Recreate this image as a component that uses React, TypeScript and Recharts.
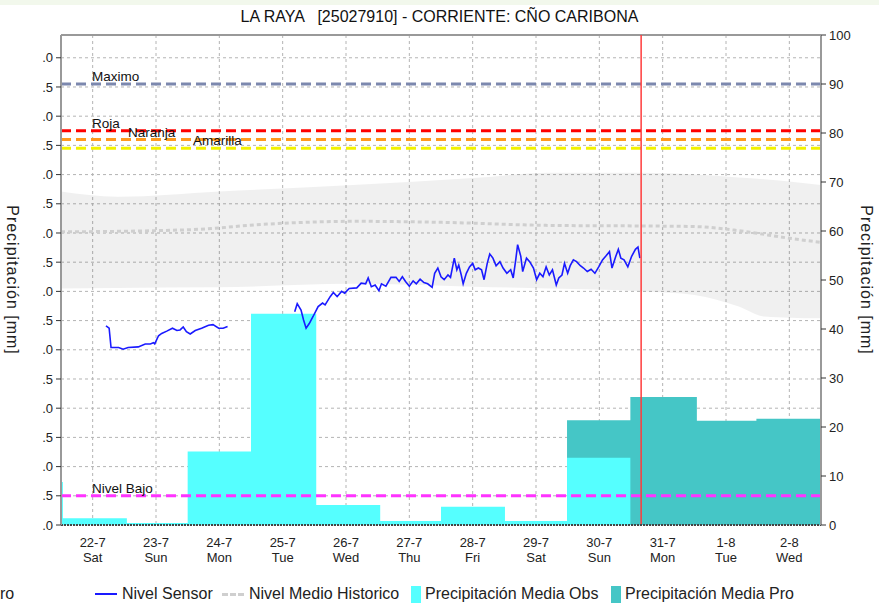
import {
  Area,
  CartesianGrid,
  ComposedChart,
  Line,
  ReferenceLine,
  XAxis,
  YAxis,
} from 'recharts';

const FONT = '"Liberation Sans", Arial, sans-serif';

const DAY_LABELS = ['22-7', '23-7', '24-7', '25-7', '26-7', '27-7', '28-7', '29-7', '30-7', '31-7', '1-8', '2-8'];
const WEEKDAYS = ['Sat', 'Sun', 'Mon', 'Tue', 'Wed', 'Thu', 'Fri', 'Sat', 'Sun', 'Mon', 'Tue', 'Wed'];
const DAY_TICKS = [0.5, 1.5, 2.5, 3.5, 4.5, 5.5, 6.5, 7.5, 8.5, 9.5, 10.5, 11.5];
const LEVEL_TICKS = [0, 0.5, 1, 1.5, 2, 2.5, 3, 3.5, 4, 4.5, 5, 5.5, 6, 6.5, 7, 7.5, 8];
const PRECIP_TICKS = [0, 10, 20, 30, 40, 50, 60, 70, 80, 90, 100];

// daily rain, [step start (days from 22-7), mm]
const PRECIP_OBS: [number, number][] = [
  [0, 8.8], [0.03, 1.4], [1.04, 0.4], [2.0, 15.0], [3.0, 43.1], [4.03, 4.1],
  [5.04, 0.8], [6.0, 3.7], [7.01, 0.8], [7.99, 13.7], [8.99, 0],
];
const PRECIP_PRO: [number, number][] = [
  [7.99, 21.4], [8.99, 26.1], [10.04, 21.3], [10.98, 21.7], [12, 21.7],
];

// historic envelope and mean (m)
const BAND_DAY = [0, 0.9, 2.5, 4.6, 6.5, 7.7, 9.2, 10.0, 10.7, 11.1, 11.5, 12];
const BAND_LOW = [4.05, 4.06, 4.07, 4.13, 4.08, 4.05, 4.0, 3.94, 3.74, 3.57, 3.55, 3.54];
const BAND_HIGH = [5.71, 5.62, 5.71, 5.82, 5.94, 6.03, 6.03, 6.0, 5.95, 5.92, 5.88, 5.82];
const MEAN_DAY = [0, 1.5, 2.3, 3.07, 3.8, 4.6, 6.1, 7.7, 9.2, 10.0, 10.7, 11.5, 12];
const MEAN_LEVEL = [5.02, 5.04, 5.07, 5.14, 5.18, 5.2, 5.18, 5.13, 5.12, 5.11, 5.04, 4.91, 4.84];

const SENSOR: [number, number | null][] = [
  [0.71, 3.41], [0.76, 3.37], [0.79, 3.04], [0.91, 3.04], [0.98, 3.01], [1.06, 3.04],
  [1.22, 3.05], [1.33, 3.1], [1.41, 3.1], [1.46, 3.12], [1.48, 3.1], [1.54, 3.24],
  [1.59, 3.28], [1.67, 3.32], [1.76, 3.37], [1.83, 3.33], [1.88, 3.34], [1.93, 3.39],
  [1.98, 3.31], [2.04, 3.27], [2.12, 3.33], [2.22, 3.37], [2.33, 3.42], [2.4, 3.43],
  [2.49, 3.37], [2.56, 3.37], [2.63, 3.4],
  [3.1, null],
  [3.69, 3.65], [3.73, 3.79], [3.79, 3.68], [3.83, 3.51], [3.87, 3.37], [3.92, 3.45],
  [3.98, 3.57], [4.06, 3.74], [4.13, 3.8], [4.17, 3.77], [4.25, 3.91], [4.3, 3.98],
  [4.36, 3.91], [4.43, 4.0], [4.48, 3.97], [4.55, 4.05], [4.67, 4.06], [4.74, 4.14],
  [4.81, 4.13], [4.85, 4.23], [4.9, 4.08], [4.96, 4.11], [5.02, 4.01], [5.06, 4.13],
  [5.13, 4.09], [5.21, 4.24], [5.29, 4.24], [5.34, 4.17], [5.39, 4.25], [5.44, 4.17],
  [5.5, 4.09], [5.56, 4.18], [5.61, 4.13], [5.67, 4.21], [5.73, 4.15], [5.79, 4.13],
  [5.86, 4.07], [5.9, 4.31], [5.95, 4.4], [6.0, 4.25], [6.05, 4.2], [6.11, 4.28],
  [6.15, 4.24], [6.21, 4.57], [6.25, 4.37], [6.28, 4.45], [6.32, 4.28], [6.35, 4.13],
  [6.4, 4.31], [6.45, 4.42], [6.5, 4.48], [6.54, 4.37], [6.59, 4.4], [6.64, 4.37],
  [6.68, 4.2], [6.73, 4.48], [6.77, 4.64], [6.82, 4.57], [6.87, 4.44], [6.93, 4.51],
  [6.98, 4.4], [7.04, 4.31], [7.1, 4.37], [7.14, 4.23], [7.18, 4.54], [7.21, 4.8],
  [7.26, 4.6], [7.29, 4.34], [7.35, 4.57], [7.4, 4.51], [7.46, 4.4], [7.51, 4.2],
  [7.56, 4.31], [7.61, 4.25], [7.66, 4.42], [7.71, 4.28], [7.76, 4.37], [7.82, 4.11],
  [7.86, 4.23], [7.91, 4.28], [7.95, 4.48], [8.0, 4.31], [8.04, 4.44], [8.09, 4.54],
  [8.14, 4.51], [8.2, 4.44], [8.25, 4.4], [8.31, 4.34], [8.37, 4.38], [8.43, 4.31],
  [8.49, 4.42], [8.55, 4.54], [8.6, 4.6], [8.66, 4.68], [8.7, 4.4], [8.76, 4.6],
  [8.8, 4.72], [8.84, 4.57], [8.89, 4.54], [8.95, 4.42], [9.01, 4.6], [9.07, 4.72],
  [9.11, 4.76], [9.14, 4.57],
];

const THRESHOLDS = [
  { name: 'Maximo', level: 7.55 },
  { name: 'Roja', level: 6.75 },
  { name: 'Naranja', level: 6.6 },
  { name: 'Amarilla', level: 6.45 },
  { name: 'Nivel Bajo', level: 0.5 },
];
const NOW_DAY = 9.16;

const THRESHOLD_STYLE: Record<string, { color: string; dx: number }> = {
  Maximo: { color: '#7c88ae', dx: 31 },
  Roja: { color: '#ff0000', dx: 31 },
  Naranja: { color: '#ff9a1e', dx: 67 },
  Amarilla: { color: '#f2f200', dx: 132 },
  'Nivel Bajo': { color: '#ff33ff', dx: 31 },
};

const obsData = PRECIP_OBS.map(([day, mm]) => ({ day, mm }));
const proData = PRECIP_PRO.map(([day, mm]) => ({ day, mm }));
const bandData = BAND_DAY.map((day, i) => ({ day, range: [BAND_LOW[i], BAND_HIGH[i]] }));
const meanData = MEAN_DAY.map((day, i) => ({ day, level: MEAN_LEVEL[i] }));
const sensorData = SENSOR.map(([day, level]) => ({ day, level }));

function DayTick({ x, y, payload }: { x?: number; y?: number; payload?: { value: number } }) {
  const i = Math.floor(payload?.value ?? 0);
  return (
    <text x={x} y={y} textAnchor="middle" fontSize={13} fill="#222" fontFamily={FONT}>
      <tspan x={x} dy={21.5}>{DAY_LABELS[i]}</tspan>
      <tspan x={x} dy={15.5}>{WEEKDAYS[i]}</tspan>
    </text>
  );
}

function thresholdLabel(text: string, dx: number) {
  return ({ viewBox }: { viewBox?: { x: number; y: number } }) => (
    <text x={(viewBox?.x ?? 0) + dx} y={(viewBox?.y ?? 0) - 3} fontSize={13.5} fill="#111" fontFamily={FONT}>
      {text}
    </text>
  );
}

function LegendRow() {
  const item = { position: 'absolute' as const, top: 584, display: 'flex', alignItems: 'center', height: 20 };
  return (
    <div style={{ fontFamily: FONT, fontSize: 16, color: '#222' }}>
      <div style={{ ...item, left: 0 }}>ro</div>
      <div style={{ ...item, left: 95 }}>
        <span style={{ width: 22, height: 2, background: '#1a1aff', marginRight: 5 }} />
        Nivel Sensor
      </div>
      <div style={{ ...item, left: 222 }}>
        <span style={{ width: 22, borderTop: '3px dashed #cfcfcf', marginRight: 5 }} />
        Nivel Medio Historico
      </div>
      <div style={{ ...item, left: 411 }}>
        <span style={{ width: 10, height: 17, background: '#55ffff', marginRight: 4 }} />
        Precipitación Media Obs
      </div>
      <div style={{ ...item, left: 611 }}>
        <span style={{ width: 10, height: 17, background: '#45c6c6', marginRight: 4 }} />
        Precipitación Media Pro
      </div>
    </div>
  );
}

export default function App() {
  return (
    <div style={{ position: 'absolute', left: 0, top: 0, width: 879, height: 609, overflow: 'hidden', background: '#fff' }}>
      <div style={{ position: 'absolute', left: 0, top: 0, width: 879, height: 5, background: '#f2f8ec' }} />
      <div
        style={{
          position: 'absolute', left: 0, top: 8, width: 879, textAlign: 'center',
          fontFamily: FONT, fontSize: 16, color: '#111', whiteSpace: 'pre',
        }}
      >
        LA RAYA   [25027910] - CORRIENTE: CÑO CARIBONA
      </div>

      <ComposedChart
        width={879}
        height={609}
        margin={{ top: 35, right: 0, bottom: 0, left: 0 }}
        style={{ position: 'absolute', left: 0, top: 0 }}
      >
        <XAxis
          type="number"
          dataKey="day"
          domain={[0, 12]}
          ticks={DAY_TICKS}
          allowDataOverflow
          height={84}
          tickLine={false}
          tickSize={0}
          tickMargin={0}
          axisLine={{ stroke: '#444', strokeWidth: 2, strokeDasharray: '2 1' }}
          tick={<DayTick />}
        />
        <YAxis
          yAxisId="left"
          type="number"
          domain={[0, 8.39]}
          ticks={LEVEL_TICKS}
          allowDataOverflow
          width={61}
          tickSize={5}
          tickMargin={3}
          tickFormatter={(v: number) => v.toFixed(1).slice(-2)}
          tick={{ fontSize: 13, fill: '#222', fontFamily: FONT }}
          tickLine={{ stroke: '#333' }}
          axisLine={{ stroke: '#999', strokeWidth: 2 }}
        />
        <YAxis
          yAxisId="right"
          orientation="right"
          type="number"
          domain={[0, 100]}
          ticks={PRECIP_TICKS}
          allowDataOverflow
          width={58}
          tickSize={5}
          tickMargin={3}
          tick={{ fontSize: 13, fill: '#222', fontFamily: FONT }}
          tickLine={{ stroke: '#333' }}
          axisLine={{ stroke: '#999', strokeWidth: 2 }}
        />

        <Area
          yAxisId="left"
          data={bandData}
          dataKey="range"
          type="monotone"
          stroke="none"
          fill="#000"
          fillOpacity={0.06}
          isAnimationActive={false}
          legendType="none"
        />
        <CartesianGrid yAxisId="left" stroke="#b4b4b4" strokeDasharray="3 3" />
        <Line
          yAxisId="left"
          data={meanData}
          dataKey="level"
          type="monotone"
          stroke="#cfcfcf"
          strokeWidth={3}
          strokeDasharray="4 3"
          dot={false}
          isAnimationActive={false}
        />
        <Area
          yAxisId="right"
          data={proData}
          dataKey="mm"
          type="stepAfter"
          stroke="none"
          fill="#45c6c6"
          fillOpacity={1}
          isAnimationActive={false}
        />
        <Area
          yAxisId="right"
          data={obsData}
          dataKey="mm"
          type="stepAfter"
          stroke="none"
          fill="#55ffff"
          fillOpacity={1}
          isAnimationActive={false}
        />

        <ReferenceLine yAxisId="right" y={100} stroke="#999" strokeWidth={2} />
        {THRESHOLDS.map((t) => (
          <ReferenceLine
            key={t.name}
            yAxisId="left"
            y={t.level}
            stroke={THRESHOLD_STYLE[t.name].color}
            strokeWidth={3}
            strokeDasharray="10 5"
            label={thresholdLabel(t.name, THRESHOLD_STYLE[t.name].dx)}
          />
        ))}

        <Line
          yAxisId="left"
          data={sensorData}
          dataKey="level"
          type="linear"
          stroke="#1a1aff"
          strokeWidth={1.6}
          dot={false}
          connectNulls={false}
          isAnimationActive={false}
        />
        <ReferenceLine yAxisId="left" x={NOW_DAY} stroke="#ff3b3b" strokeWidth={1.5} />
      </ComposedChart>

      <div
        style={{
          position: 'absolute', left: 11.5, top: 280, transform: 'translate(-50%, -50%) rotate(90deg)',
          fontFamily: FONT, fontSize: 16, color: '#222', whiteSpace: 'nowrap', letterSpacing: 1,
        }}
      >
        Precipitación [mm]
      </div>
      <div
        style={{
          position: 'absolute', left: 866, top: 280, transform: 'translate(-50%, -50%) rotate(90deg)',
          fontFamily: FONT, fontSize: 16, color: '#222', whiteSpace: 'nowrap', letterSpacing: 1,
        }}
      >
        Precipitación [mm]
      </div>

      <LegendRow />
    </div>
  );
}
